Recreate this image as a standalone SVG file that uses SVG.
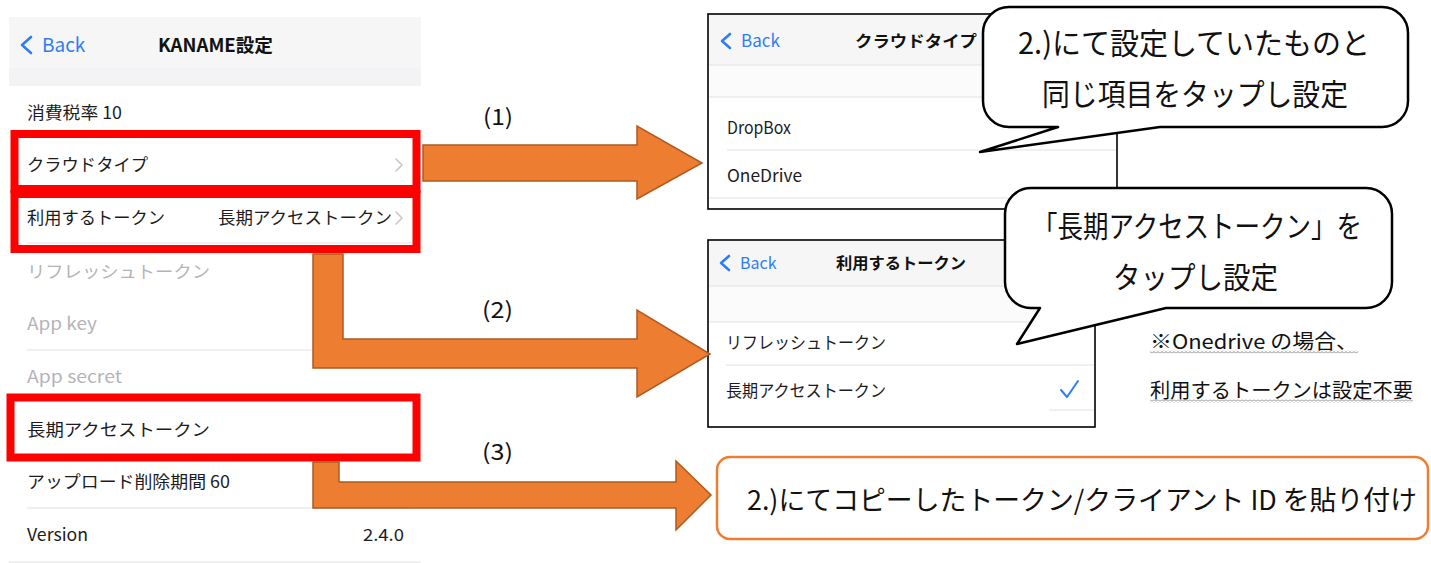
<svg xmlns="http://www.w3.org/2000/svg" width="1431" height="563" viewBox="0 0 1431 563">
<style>
text{font-family:"Noto Sans CJK JP","Noto Sans",sans-serif;}
.ui{font-size:17px;fill:#1c1c1e;}
.dim{font-size:17px;fill:#b4b4b8;}
.blue{fill:#2f7df6;}
.sep{stroke:#e2e2e4;stroke-width:1.2;}
.chev{fill:none;stroke:#c7c7cc;stroke-width:1.6;stroke-linecap:round;stroke-linejoin:round;}
.back{fill:none;stroke:#2f7df6;stroke-width:2.6;stroke-linecap:round;stroke-linejoin:round;}
.hl{fill:none;stroke:#ff0000;stroke-width:8;}
.frame{fill:#fff;stroke:#000;stroke-width:1.6;}
.hdr{fill:#f6f6f7;}
.band{fill:#f3f3f5;}
.band2{fill:#fbfbfb;}
.bubble{fill:#fff;stroke:#000;stroke-width:2.5;stroke-linejoin:round;}
.big{font-size:30px;fill:#111;}
.arrow{fill:#ed7d31;stroke:#ae5a21;stroke-width:1.5;}
.lbl{font-size:22px;fill:#111;}
.note{font-size:20px;fill:#111;}
</style>
<defs>
<pattern id="wave" x="0" y="0" width="4" height="3" patternUnits="userSpaceOnUse">
<path d="M0,2.5 L2,0.5 L4,2.5" fill="none" stroke="#777" stroke-width="0.9"/>
</pattern>
</defs>
<rect width="1431" height="563" fill="#fff"/>

<g id="left-screen">
<rect class="hdr" x="9" y="17" width="412" height="51"/>
<rect class="band" x="9" y="68" width="412" height="18"/>
<path class="back" d="M31,37 L22,45 L31,53"/>
<text class="blue" x="42" y="52" font-size="19">Back</text>
<text x="158" y="52" font-size="18" font-weight="bold" fill="#111" textLength="115" lengthAdjust="spacingAndGlyphs">KANAME設定</text>
<text class="ui" x="27" y="119" textLength="95" lengthAdjust="spacingAndGlyphs">消費税率 10</text>
<text class="ui" x="27" y="171" textLength="121" lengthAdjust="spacingAndGlyphs">クラウドタイプ</text>
<path class="chev" d="M396,159 L402,165 L396,171"/>
<text class="ui" x="27" y="224" textLength="138" lengthAdjust="spacingAndGlyphs">利用するトークン</text>
<text class="ui" x="218" y="224" textLength="174" lengthAdjust="spacingAndGlyphs">長期アクセストークン</text>
<path class="chev" d="M396,212 L402,218 L396,224"/>
<line class="sep" x1="27" y1="243" x2="412" y2="243"/>
<text class="dim" x="27" y="278" textLength="183" lengthAdjust="spacingAndGlyphs">リフレッシュトークン</text>
<text class="dim" x="27" y="330" font-size="18" textLength="70" lengthAdjust="spacingAndGlyphs">App key</text>
<line class="sep" x1="27" y1="350" x2="412" y2="350"/>
<text class="dim" x="27" y="383" font-size="18" textLength="95" lengthAdjust="spacingAndGlyphs">App secret</text>
<text class="ui" x="27" y="436" textLength="183" lengthAdjust="spacingAndGlyphs">長期アクセストークン</text>
<text class="ui" x="27" y="488" textLength="203" lengthAdjust="spacingAndGlyphs">アップロード削除期間 60</text>
<line class="sep" x1="27" y1="508" x2="412" y2="508"/>
<text class="ui" x="27" y="541" font-size="18" textLength="61" lengthAdjust="spacingAndGlyphs">Version</text>
<text class="ui" x="363" y="541" font-size="18" textLength="41" lengthAdjust="spacingAndGlyphs">2.4.0</text>
<line class="sep" x1="9" y1="562" x2="421" y2="562"/>
<rect class="hl" x="14.5" y="134" width="402" height="55"/>
<rect class="hl" x="14.5" y="194" width="402" height="55"/>
<rect class="hl" x="10.5" y="397.5" width="406" height="60"/>
</g>

<g id="cloud-screen">
<rect class="frame" x="708" y="14" width="409" height="195"/>
<rect class="hdr" x="709" y="15" width="407" height="50"/>
<rect class="band2" x="709" y="65" width="407" height="32"/>
<line class="sep" x1="709" y1="65" x2="1116" y2="65"/>
<line class="sep" x1="709" y1="97" x2="1116" y2="97"/>
<path class="back" d="M730,34 L722,41 L730,48"/>
<text class="blue" x="741" y="47" font-size="17">Back</text>
<text x="855" y="47" font-size="16" font-weight="bold" fill="#111" textLength="122" lengthAdjust="spacingAndGlyphs">クラウドタイプ</text>
<text class="ui" x="727" y="134" textLength="64" lengthAdjust="spacingAndGlyphs">DropBox</text>
<line class="sep" x1="727" y1="150" x2="1116" y2="150"/>
<text class="ui" x="727" y="182" textLength="75" lengthAdjust="spacingAndGlyphs">OneDrive</text>
<line class="sep" x1="709" y1="198" x2="1116" y2="198"/>
</g>

<g id="token-screen">
<rect class="frame" x="708" y="240" width="387" height="187"/>
<rect class="hdr" x="709" y="241" width="385" height="45"/>
<rect class="band2" x="709" y="286" width="385" height="36"/>
<line class="sep" x1="709" y1="286" x2="1094" y2="286"/>
<line class="sep" x1="709" y1="322" x2="1094" y2="322"/>
<path class="back" d="M729,256 L721,263 L729,270"/>
<text class="blue" x="740" y="269" font-size="16">Back</text>
<text x="836" y="269" font-size="16" font-weight="bold" fill="#111" textLength="130" lengthAdjust="spacingAndGlyphs">利用するトークン</text>
<text class="ui" x="726" y="349" font-size="16" textLength="160" lengthAdjust="spacingAndGlyphs">リフレッシュトークン</text>
<line class="sep" x1="726" y1="365" x2="1094" y2="365"/>
<text class="ui" x="726" y="397" font-size="16" textLength="160" lengthAdjust="spacingAndGlyphs">長期アクセストークン</text>
<path d="M1061,390 L1067,397 L1078,381" fill="none" stroke="#2f7df6" stroke-width="2" stroke-linecap="round" stroke-linejoin="round"/>
<line class="sep" x1="1049" y1="410" x2="1094" y2="410"/>
</g>

<g id="callout1">
<path class="bubble" d="M1009,7 H1382 A26,26 0 0 1 1408,33 V101 A26,26 0 0 1 1382,127 H1160 L980,152 L1058,127 H1009 A26,26 0 0 1 983,101 V33 A26,26 0 0 1 1009,7 Z"/>
<text class="big" x="1018" y="54" textLength="352" lengthAdjust="spacingAndGlyphs">2.)にて設定していたものと</text>
<text class="big" x="1042" y="105" textLength="306" lengthAdjust="spacingAndGlyphs">同じ項目をタップし設定</text>
</g>

<g id="callout2">
<path class="bubble" d="M1031,188 H1366 A26,26 0 0 1 1392,214 V282 A26,26 0 0 1 1366,308 H1166 L1017,344 L1040,308 H1031 A26,26 0 0 1 1005,282 V214 A26,26 0 0 1 1031,188 Z"/>
<text class="big" x="1032" y="237" textLength="330" lengthAdjust="spacingAndGlyphs">「長期アクセストークン」を</text>
<text class="big" x="1113" y="288" textLength="165" lengthAdjust="spacingAndGlyphs">タップし設定</text>
</g>

<g id="note">
<text class="note" x="1150" y="349" textLength="208" lengthAdjust="spacingAndGlyphs">※Onedrive の場合、</text>
<rect x="1150" y="350.5" width="208" height="3" fill="url(#wave)"/>
<text class="note" x="1150" y="398" textLength="263" lengthAdjust="spacingAndGlyphs">利用するトークンは設定不要</text>
<rect x="1150" y="399.5" width="263" height="3" fill="url(#wave)"/>
</g>

<g id="paste-box">
<rect x="717" y="457" width="711" height="82" rx="13" fill="#fff" stroke="#ed7d31" stroke-width="2.5"/>
<text x="747" y="510" font-size="27" fill="#111" textLength="670" lengthAdjust="spacingAndGlyphs">2.)にてコピーしたトークン/クライアント ID を貼り付け</text>
</g>

<g id="connectors">
<polygon class="arrow" points="423,145 637,145 637,126 702,163 637,199 637,181 423,181"/>
<polygon class="arrow" points="313,254 343,254 343,339 637,339 637,310 710,354 637,397 637,368 313,368"/>
<polygon class="arrow" points="313,462 339,462 339,482 676,482 676,461 711,495 676,530 676,508 313,508"/>
<text class="lbl" x="483" y="125" textLength="30" lengthAdjust="spacingAndGlyphs">(1)</text>
<text class="lbl" x="482" y="318" textLength="31" lengthAdjust="spacingAndGlyphs">(2)</text>
<text class="lbl" x="482" y="460" textLength="31" lengthAdjust="spacingAndGlyphs">(3)</text>
</g>
</svg>
